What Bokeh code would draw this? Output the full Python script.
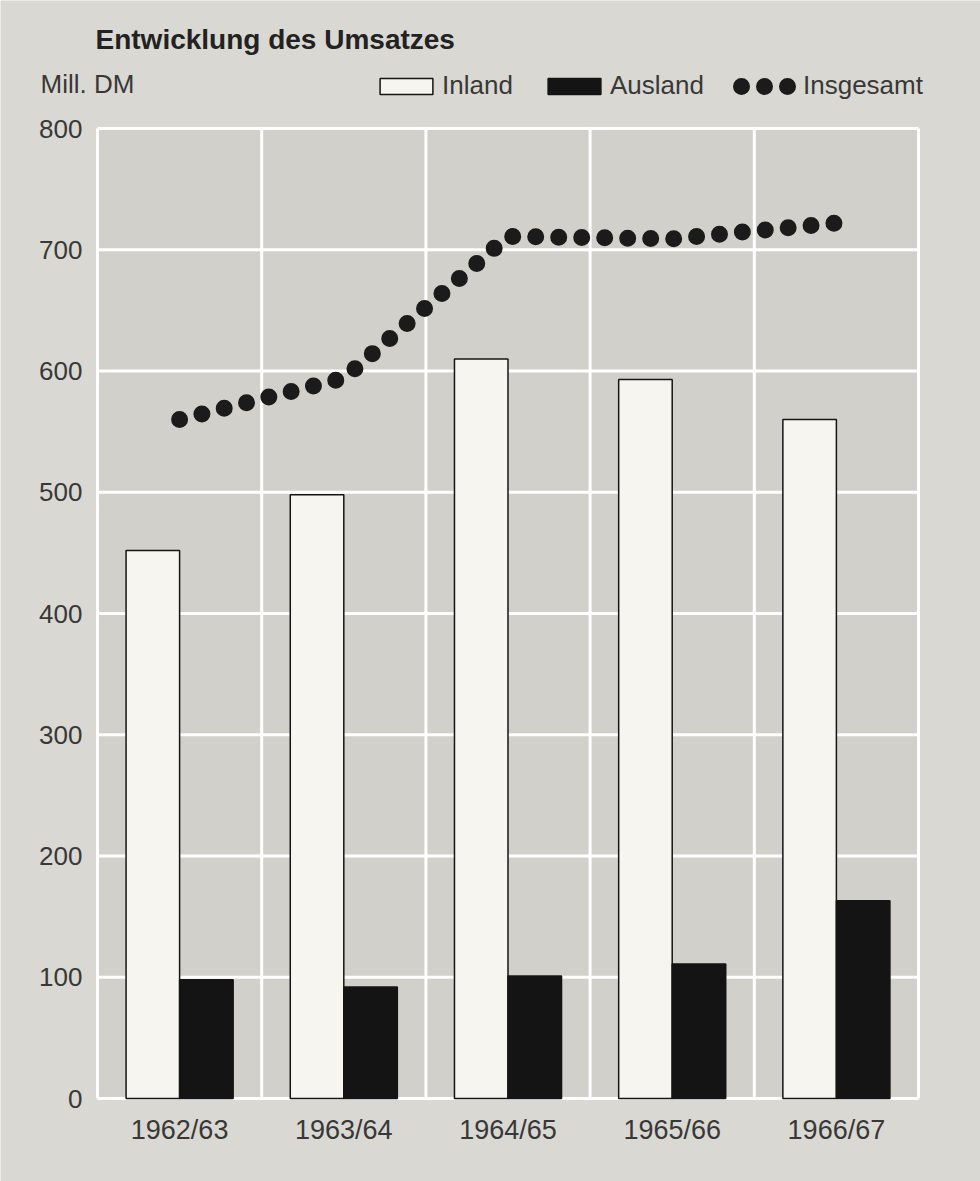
from bokeh.plotting import figure
from bokeh.models import Range1d, Label, Legend, LegendItem, ColumnDataSource
from bokeh.transform import dodge
from bokeh.embed import file_html
from bokeh.resources import INLINE

categories = ["1962/63", "1963/64", "1964/65", "1965/66", "1966/67"]
inland = [452, 498, 610, 593, 560]
ausland = [98, 92, 101, 111, 163]
insgesamt = [560, 594, 711, 709, 722]
y_ticks = [0, 100, 200, 300, 400, 500, 600, 700, 800]
y_tick_labels = [str(t) for t in y_ticks]

FONT = "Liberation Sans"
TXT = "#383838"
OUTER = "#dad8d2"
INNER = "#d2d0ca"
WHITE_BAR = "#f7f5ef"
BLACK = "#141414"

W, H = 980, 1181
# pixel layout of the plotting area inside the page
AREA_L, AREA_R, AREA_T, AREA_B = 97, 918, 128, 1098

n = len(categories)
y_max = y_ticks[-1]
px_x = (AREA_R - AREA_L) / n
px_y = (AREA_B - AREA_T) / y_max
x_range = Range1d(-AREA_L / px_x, n + (W - AREA_R) / px_x)
y_range = Range1d(-(H - AREA_B) / px_y, y_max + AREA_T / px_y)

pos = [i + 0.5 for i in range(n)]
src = ColumnDataSource(dict(x=pos, cat=categories, inland=inland,
                            ausland=ausland, total=insgesamt))

p = figure(width=W, height=H, x_range=x_range, y_range=y_range,
           output_backend="svg", toolbar_location=None,
           x_axis_location=None, y_axis_location=None, min_border=0)
p.background_fill_color = OUTER
p.border_fill_color = OUTER
p.outline_line_color = None
p.grid.visible = False

# plotting area background and white grid
p.quad(left=0, right=n, bottom=0, top=y_max, fill_color=INNER, line_color=None)
p.segment(x0=0, x1=n, y0=y_ticks, y1=y_ticks, line_color="white", line_width=3)
bounds = list(range(n + 1))
p.segment(x0=bounds, x1=bounds, y0=0, y1=y_max, line_color="white", line_width=3)

# axis tick labels
p.text(x=0, y=y_ticks, text=y_tick_labels, x_offset=-15, text_align="right",
       text_baseline="middle", text_font_size="26px", text_color=TXT,
       text_font={"value": FONT})
p.text(x=pos, y=0, text=categories, y_offset=31, text_align="center",
       text_baseline="middle", text_font_size="27px", text_color=TXT,
       text_font={"value": FONT})

bar_in = dict(fill_color=WHITE_BAR, line_color="#151515", line_width=1.5)
bar_aus = dict(fill_color=BLACK, line_color=BLACK, line_width=1.5)
dots = dict(line_width=17, line_color="#1b1b1b", line_cap="round",
            line_join="round", line_dash="0 23")

r_in = p.vbar(x=dodge("x", -0.163, range=p.x_range), top="inland", width=0.326,
              source=src, **bar_in)
r_aus = p.vbar(x=dodge("x", 0.163, range=p.x_range), top="ausland", width=0.326,
               source=src, **bar_aus)
r_tot = p.line("x", "total", source=src, **dots)
# hidden twin of the dotted line, only used to draw the legend swatch
r_tot_key = p.line("x", "total", source=src, visible=False, line_dash_offset=14,
                   **dots)

legend_style = dict(orientation="horizontal", glyph_height=20, padding=0, margin=0,
                    background_fill_alpha=0, border_line_alpha=0,
                    inactive_fill_alpha=0, label_text_font=FONT,
                    label_text_font_size="26px", label_text_color=TXT,
                    label_text_baseline="middle")
LEG_Y = H - 101
p.add_layout(Legend(items=[LegendItem(label="Inland", renderers=[r_in])],
                    location=(373, LEG_Y), glyph_width=66, label_standoff=3,
                    **legend_style))
p.add_layout(Legend(items=[LegendItem(label="Ausland", renderers=[r_aus])],
                    location=(541, LEG_Y), glyph_width=66, label_standoff=3,
                    **legend_style))
p.add_layout(Legend(items=[LegendItem(label="Insgesamt", renderers=[r_tot_key])],
                    location=(732, LEG_Y), glyph_width=65, label_standoff=6,
                    **legend_style))

p.add_layout(Label(x=95, y=H - 39, x_units="screen", y_units="screen",
                   text="Entwicklung des Umsatzes", text_font=FONT,
                   text_font_style="bold", text_font_size="28px", text_color="#222222",
                   text_baseline="middle"))
p.add_layout(Label(x=40, y=H - 83, x_units="screen", y_units="screen",
                   text="Mill. DM", text_font=FONT, text_font_size="26px",
                   text_color=TXT, text_baseline="middle"))

open("out.html", "w").write(file_html(p, INLINE))
